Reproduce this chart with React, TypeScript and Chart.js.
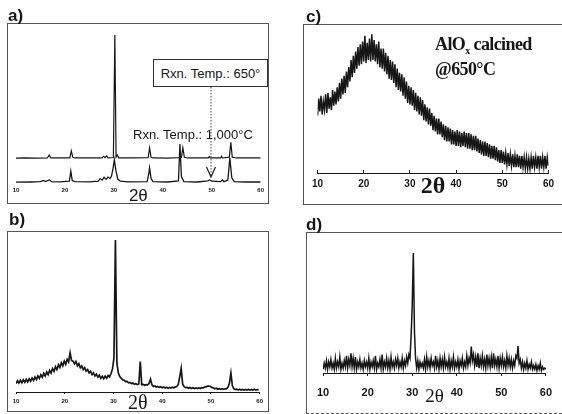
import React, { useEffect, useRef } from "react";
import { Chart, registerables } from "chart.js";

Chart.register(...registerables);

const SANS = "'Liberation Sans', Arial, Helvetica, sans-serif";
const SERIF = "'Liberation Serif', 'Times New Roman', Times, serif";
const INK = "#161616";
const FRAME = "#555";

// ---------- shared axis ----------
const xTicks = [10, 20, 30, 40, 50, 60];
const xTickLabels = ["10", "20", "30", "40", "50", "60"];
const xTitle = "2θ";

// ---------- panel a) : two stacked patterns ----------
const aUpperAngles = [10, 12, 14, 16.4, 16.8, 17.1, 19, 21.0, 21.3, 21.6, 22, 25, 27.6, 27.9, 28.2, 28.5, 28.8, 29.9, 30.2, 30.45, 30.7, 31.0, 34, 37.0, 37.3, 37.6, 38, 41, 43.8, 44.1, 44.4, 45, 48, 49.3, 49.5, 49.7, 51.8, 52.0, 52.2, 53.6, 53.9, 54.2, 55, 60];
const aUpperValues = [16.8, 16.9, 16.8, 16.9, 18.8, 16.9, 17.0, 17.0, 21.5, 17.3, 16.9, 16.9, 17.0, 18.0, 17.1, 18.2, 17.0, 17.2, 96.8, 17.5, 18.8, 17.0, 16.9, 17.1, 23.4, 17.4, 16.9, 16.8, 17.2, 23.5, 17.3, 16.9, 16.9, 16.9, 17.8, 16.9, 16.9, 18.0, 16.9, 17.4, 27.0, 17.4, 16.9, 16.9];
const aLowerAngles = [10, 13, 15, 15.6, 16.0, 16.8, 17.3, 19, 20.9, 21.2, 21.5, 22, 25, 26.8, 27.2, 27.6, 28.0, 28.4, 28.8, 29.2, 29.5, 29.8, 30.1, 30.4, 30.8, 31.3, 33, 36.8, 37.1, 37.3, 37.6, 38, 41, 43.2, 43.5, 43.8, 44.3, 47, 49.2, 49.6, 50.0, 51.8, 52.2, 52.5, 53.3, 53.7, 54.1, 54.6, 57, 60];
const aLowerValues = [1.2, 1.3, 1.5, 2.3, 1.6, 2.6, 1.5, 1.4, 1.8, 8.4, 2.2, 1.5, 1.4, 1.8, 3.5, 2.5, 4.3, 3.0, 4.5, 3.5, 5.0, 9.5, 15.6, 9.0, 3.2, 1.8, 1.4, 1.6, 6.0, 10.5, 3.5, 1.6, 1.3, 2.0, 26.0, 5.0, 1.6, 1.3, 2.0, 2.6, 1.8, 1.5, 2.6, 1.5, 2.5, 17.0, 4.0, 1.5, 1.3, 1.3];

// ---------- panel b) : sampled every 0.3 deg from 10 deg ----------
const bStartAngle = 10;
const bStepAngle = 0.3;
const bValues = [
  5.5, 7.3, 5.8, 7.6, 6.0, 7.9, 6.3, 8.2, 6.6, 8.6,
  7.0, 9.1, 7.5, 9.7, 8.1, 10.4, 8.8, 11.2, 9.6, 12.1,
  10.4, 13.0, 11.3, 14.1, 12.3, 15.2, 13.4, 16.4, 14.6, 17.7,
  15.9, 19.0, 17.0, 20.1, 18.0, 21.2, 19.5, 25.5, 20.5, 20.0,
  18.3, 19.8, 17.0, 18.4, 15.8, 17.0, 14.6, 15.8, 13.5, 14.6,
  12.4, 13.5, 11.3, 12.5, 10.4, 11.6, 9.6, 10.9, 8.9, 10.2,
  8.6, 10.3, 8.9, 10.8, 9.8, 12.0, 15.0, 22.0, 98.7, 19.0,
  12.3, 10.0, 8.9, 8.0, 7.6, 6.8, 6.9, 6.0, 6.2, 5.5,
  5.8, 5.0, 5.4, 4.8, 5.2, 19.7, 4.8, 5.0, 4.4, 4.8,
  4.6, 5.5, 8.4, 4.6, 3.6, 3.9, 3.2, 3.6, 3.0, 3.4,
  2.8, 3.2, 2.6, 3.1, 2.5, 3.0, 2.6, 3.1, 2.7, 3.3,
  3.5, 5.0, 9.9, 15.4, 5.0, 3.4, 2.8, 3.0, 2.4, 2.9,
  2.3, 2.8, 2.3, 2.7, 2.2, 2.7, 2.3, 2.8, 2.6, 3.2,
  3.3, 3.8, 3.9, 3.6, 3.0, 2.6, 2.1, 2.4, 1.8, 2.2,
  1.7, 2.1, 1.7, 2.2, 2.0, 3.0, 5.8, 12.3, 4.0, 2.2,
  1.6, 1.9, 1.3, 1.8, 1.3, 1.7, 1.2, 1.7, 1.2, 1.6,
  1.2, 1.7, 1.3, 1.8, 1.2, 1.6, 1.3,
];

// ---------- panel c) : AlOx calcined @650 C, every 0.25 deg ----------
const cStartAngle = 10;
const cStepAngle = 0.25;
const cValues = [
  40, 52, 43, 54, 41, 50, 44, 55,
  42, 56, 45, 53, 44, 58, 47, 57,
  48, 60, 50, 63, 52, 66, 55, 68,
  56, 71, 60, 74, 64, 79, 67, 82,
  70, 85, 73, 88, 75, 90, 76, 92,
  78, 96, 77, 91, 79, 94, 78, 97,
  79, 93, 78, 90, 76, 92, 74, 87,
  73, 87, 71, 84, 69, 82, 66, 79,
  65, 78, 63, 76, 60, 73, 58, 70,
  57, 69, 54, 67, 52, 64, 49, 61,
  48, 60, 47, 58, 44, 56, 43, 54,
  41, 53, 40, 51, 37, 48, 36, 46,
  34, 45, 33, 42, 30, 40, 29, 38,
  27, 38, 27, 36, 25, 34, 23, 33,
  22, 32, 22, 31, 20, 30, 20, 29,
  19, 30, 19, 29, 18, 28, 19, 29,
  18, 28, 17, 28, 17, 27, 16, 26,
  16, 26, 15, 24, 14, 23, 13, 22,
  12, 22, 12, 21, 11, 20, 10, 19,
  10, 19, 9, 18, 8, 16, 7, 16,
  7, 15, 6, 14, 6, 14, 5, 13,
  5, 13, 4, 12, 4, 13, 4, 12,
  3, 12, 4, 11, 3, 11, 3, 10,
  3, 11, 3, 12, 4, 11, 3, 12,
  4, 12, 3, 11, 4, 12, 3, 11,
  5,
];

// ---------- panel d) : every 0.25 deg ----------
const dStartAngle = 10;
const dStepAngle = 0.25;
const dValues = [
  3, 8, 4, 10, 3, 9, 5, 11, 4, 8,
  3, 12, 4, 9, 5, 13, 3, 8, 4, 10,
  5, 14, 4, 11, 6, 16, 5, 12, 4, 13,
  3, 9, 5, 11, 4, 8, 3, 10, 5, 9,
  4, 12, 3, 9, 5, 10, 4, 14, 3, 8,
  5, 11, 4, 15, 3, 9, 5, 12, 4, 10,
  3, 13, 5, 9, 4, 11, 6, 12, 4, 9,
  5, 12, 4, 10, 6, 13, 8, 15, 12, 30,
  55, 97.6, 34, 12, 4, 10, 3, 9, 5, 8,
  4, 11, 3, 13, 5, 10, 4, 12, 6, 9,
  4, 14, 5, 10, 3, 12, 5, 11, 4, 13,
  5, 9, 4, 12, 3, 10, 5, 13, 4, 9,
  5, 11, 3, 10, 6, 12, 4, 9, 5, 14,
  6, 12, 8, 21.5, 10, 15, 6, 13, 5, 16,
  4, 12, 6, 14, 5, 11, 4, 15, 6, 12,
  5, 13, 4, 16, 6, 11, 5, 14, 4, 12,
  6, 13, 5, 10, 4, 14, 6, 12, 5, 11,
  4, 10, 6, 14, 12, 22, 8, 11, 4, 9,
  3, 8, 4, 10, 3, 7, 4, 9, 3, 6,
  3, 7, 2, 6, 3, 8, 2, 5, 3, 4,
  3,
];

// ---------- helpers ----------
type Pt = { x: number; y: number };
const pairPoints = (angles: number[], values: number[]): Pt[] =>
  values.map((v, i) => ({ x: angles[i], y: v }));
const gridPoints = (start: number, step: number, values: number[]): Pt[] =>
  values.map((v, i) => ({ x: Math.round((start + i * step) * 100) / 100, y: v }));

type PanelOpts = {
  series: { points: Pt[]; width: number }[];
  pad: { left: number; right: number; top: number; bottom: number };
  axisHeight: number;
  tickFont: any;
  tickPadding: number;
  tickLength: number;
  axisLine: boolean;
  titleFont: any;
  titleBottom: number;
};

function buildConfig(o: PanelOpts): any {
  return {
    type: "line",
    data: {
      datasets: o.series.map((s) => ({
        data: s.points,
        borderColor: INK,
        borderWidth: s.width,
        pointRadius: 0,
        tension: 0,
        fill: false,
      })),
    },
    options: {
      responsive: false,
      animation: false,
      devicePixelRatio: 1,
      events: [],
      layout: { padding: o.pad },
      plugins: { legend: { display: false }, tooltip: { enabled: false } },
      scales: {
        x: {
          type: "linear",
          min: 10,
          max: 60,
          afterFit: (s: any) => {
            s.height = o.axisHeight;
          },
          afterBuildTicks: (s: any) => {
            s.ticks = xTicks.map((v) => ({ value: v }));
          },
          ticks: {
            autoSkip: false,
            maxRotation: 0,
            padding: o.tickPadding,
            font: o.tickFont,
            color: INK,
            callback: (_v: any, i: number) => xTickLabels[i],
          },
          grid: {
            display: o.tickLength !== 0,
            drawOnChartArea: false,
            drawTicks: o.tickLength !== 0,
            tickLength: o.tickLength,
            color: INK,
            lineWidth: 1,
          },
          border: { display: o.axisLine, color: INK, width: 1 },
          title: {
            display: true,
            text: xTitle,
            font: o.titleFont,
            color: INK,
            padding: { top: 0, bottom: o.titleBottom },
          },
        },
        y: { type: "linear", display: false, min: 0, max: 100 },
      },
    },
  };
}

function PanelChart(props: { left: number; top: number; width: number; height: number; opts: PanelOpts }) {
  const ref = useRef<HTMLCanvasElement>(null);
  useEffect(() => {
    const chart = new Chart(ref.current as HTMLCanvasElement, buildConfig(props.opts));
    return () => chart.destroy();
  }, []);
  return (
    <canvas
      ref={ref}
      width={props.width}
      height={props.height}
      style={{ position: "absolute", left: props.left, top: props.top, width: props.width, height: props.height }}
    />
  );
}

const panelA: PanelOpts = {
  series: [
    { points: pairPoints(aUpperAngles, aUpperValues), width: 1.2 },
    { points: pairPoints(aLowerAngles, aLowerValues), width: 1.3 },
  ],
  pad: { left: 8, right: 6, top: 6, bottom: 0 },
  axisHeight: 21,
  tickFont: { family: SANS, size: 6, weight: "bold", lineHeight: 1.2 },
  tickPadding: 3,
  tickLength: 0,
  axisLine: false,
  titleFont: { family: SANS, size: 17, lineHeight: 1 },
  titleBottom: 0,
};

const panelB: PanelOpts = {
  series: [{ points: gridPoints(bStartAngle, bStepAngle, bValues), width: 1.7 }],
  pad: { left: 8, right: 6, top: 6, bottom: 0 },
  axisHeight: 22,
  tickFont: { family: SANS, size: 6, weight: "bold", lineHeight: 1.2 },
  tickPadding: 4,
  tickLength: 2,
  axisLine: true,
  titleFont: { family: SERIF, size: 20, lineHeight: 1 },
  titleBottom: 0,
};

const panelC: PanelOpts = {
  series: [{ points: gridPoints(cStartAngle, cStepAngle, cValues), width: 1.5 }],
  pad: { left: 12, right: 12, top: 5, bottom: 0 },
  axisHeight: 32,
  tickFont: { family: SANS, size: 10, weight: "bold", lineHeight: 1.2 },
  tickPadding: 8,
  tickLength: -3,
  axisLine: true,
  titleFont: { family: SERIF, size: 24, weight: "bold", lineHeight: 1 },
  titleBottom: 6,
};

const panelD: PanelOpts = {
  series: [{ points: gridPoints(dStartAngle, dStepAngle, dValues), width: 1.5 }],
  pad: { left: 12, right: 11, top: 17, bottom: 0 },
  axisHeight: 41,
  tickFont: { family: SANS, size: 11, weight: "bold", lineHeight: 1.2 },
  tickPadding: 10,
  tickLength: 3,
  axisLine: true,
  titleFont: { family: SERIF, size: 19, lineHeight: 1 },
  titleBottom: 7,
};

const panelLabel = (text: string, left: number, top: number) => (
  <div
    style={{
      position: "absolute",
      left,
      top,
      fontFamily: SANS,
      fontWeight: "bold",
      fontSize: 17,
      lineHeight: "17px",
      color: INK,
      whiteSpace: "nowrap",
    }}
  >
    {text}
  </div>
);

export default function App() {
  useEffect(() => {
    document.body.style.margin = "0";
  }, []);
  return (
    <div
      style={{
        position: "absolute",
        left: 0,
        top: 0,
        width: 562,
        height: 414,
        background: "#fff",
        overflow: "hidden",
      }}
    >
      {/* frames */}
      <div style={{ position: "absolute", left: 7, top: 23, width: 262, height: 181, boxSizing: "border-box", border: `1px solid ${FRAME}` }} />
      <div style={{ position: "absolute", left: 7, top: 231, width: 262, height: 181, boxSizing: "border-box", border: `1px solid ${FRAME}` }} />
      <div style={{ position: "absolute", left: 303, top: 24, width: 259, height: 181, boxSizing: "border-box", borderTop: `1px solid ${FRAME}`, borderLeft: `1px solid ${FRAME}`, borderBottom: `1px solid ${FRAME}` }} />
      <div style={{ position: "absolute", left: 306, top: 232, width: 256, height: 182, boxSizing: "border-box", borderTop: `1px solid ${FRAME}`, borderLeft: `1px solid ${FRAME}`, borderBottom: `1px dashed ${FRAME}` }} />

      {/* charts */}
      <PanelChart left={8} top={24} width={259} height={181} opts={panelA} />
      <PanelChart left={8} top={232} width={259} height={182} opts={panelB} />
      <PanelChart left={304} top={25} width={258} height={180} opts={panelC} />
      <PanelChart left={307} top={233} width={255} height={181} opts={panelD} />

      {/* panel labels */}
      {panelLabel("a)", 8, 7)}
      {panelLabel("b)", 9, 211)}
      {panelLabel("c)", 306, 8)}
      {panelLabel("d)", 306, 216)}

      {/* panel a annotations */}
      <div
        style={{
          position: "absolute",
          left: 153,
          top: 59,
          width: 115,
          height: 28,
          boxSizing: "border-box",
          border: "1px solid #333",
          background: "#fff",
          display: "flex",
          alignItems: "center",
          justifyContent: "center",
          fontFamily: SANS,
          fontSize: 13,
          color: INK,
          whiteSpace: "nowrap",
        }}
      >
        Rxn. Temp.: 650°
      </div>
      <svg width={562} height={414} style={{ position: "absolute", left: 0, top: 0, pointerEvents: "none" }}>
        <line x1={211} y1={87} x2={211} y2={176} stroke="#444" strokeWidth={1} strokeDasharray="1.5 1.5" />
        <polyline points="206.5,167 211,177 215.5,167" fill="none" stroke="#222" strokeWidth={1.3} />
      </svg>
      <div
        style={{
          position: "absolute",
          left: 133,
          top: 128,
          fontFamily: SANS,
          fontSize: 13,
          lineHeight: "13px",
          color: INK,
          whiteSpace: "nowrap",
        }}
      >
        Rxn. Temp.: 1,000°C
      </div>

      {/* panel c annotation */}
      <div
        style={{
          position: "absolute",
          left: 435,
          top: 35,
          fontFamily: SERIF,
          fontWeight: "bold",
          fontSize: 18,
          lineHeight: "19px",
          letterSpacing: -0.6,
          color: INK,
          whiteSpace: "nowrap",
        }}
      >
        <div>
          AlO<span style={{ fontSize: 10, verticalAlign: -4 }}>x</span> calcined
        </div>
        <div>@650°C</div>
      </div>
    </div>
  );
}
